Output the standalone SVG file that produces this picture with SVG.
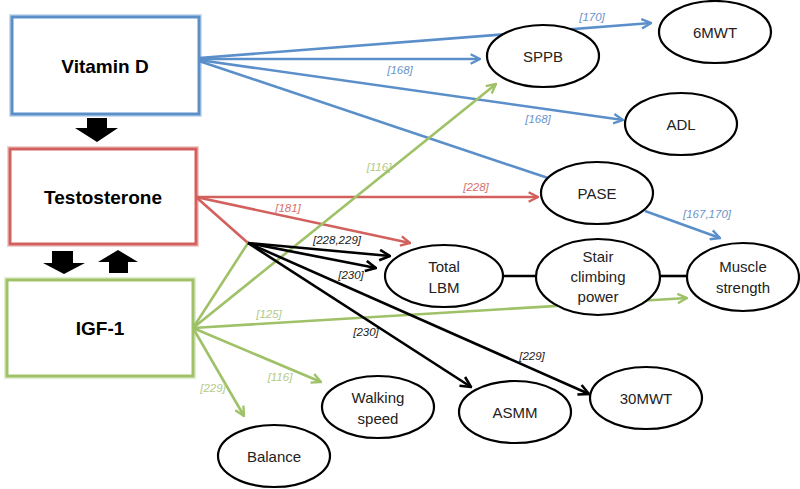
<svg xmlns="http://www.w3.org/2000/svg" width="800" height="489" viewBox="0 0 800 489">
<defs>
<marker id="mb" viewBox="0 0 10 10" refX="9" refY="5" markerWidth="4.5" markerHeight="4.5" markerUnits="strokeWidth" orient="auto"><path d="M1,1 L9,5 L1,9" fill="none" stroke="#5b8fca" stroke-width="2"/></marker>
<marker id="mr" viewBox="0 0 10 10" refX="9" refY="5" markerWidth="4.5" markerHeight="4.5" markerUnits="strokeWidth" orient="auto"><path d="M1,1 L9,5 L1,9" fill="none" stroke="#d2605c" stroke-width="2"/></marker>
<marker id="mg" viewBox="0 0 10 10" refX="9" refY="5" markerWidth="4.5" markerHeight="4.5" markerUnits="strokeWidth" orient="auto"><path d="M1,1 L9,5 L1,9" fill="none" stroke="#9fc167" stroke-width="2"/></marker>
<marker id="mk" viewBox="0 0 10 10" refX="9" refY="5" markerWidth="5" markerHeight="5" markerUnits="strokeWidth" orient="auto"><path d="M1,1 L9,5 L1,9" fill="none" stroke="#000" stroke-width="2"/></marker>
</defs>
<style>
.box{fill:#fff;stroke-width:3}
.glow{fill:none;stroke-width:6;stroke-opacity:0.3}
.bt{font-family:"Liberation Sans",Arial,sans-serif;font-weight:bold;font-size:19px;text-anchor:middle;fill:#000}
.el{fill:#fff;stroke:#000;stroke-width:2.2}
.nt{font-family:"Liberation Sans",Arial,sans-serif;font-size:15px;text-anchor:middle;fill:#222}
.lb{font-family:"Liberation Sans",Arial,sans-serif;font-style:italic;font-size:11.5px;text-anchor:middle}
.b{stroke:#5b8fca;stroke-width:2.6;fill:none}
.r{stroke:#d2605c;stroke-width:2.6;fill:none}
.g{stroke:#9fc167;stroke-width:2.6;fill:none}
.k{stroke:#000;stroke-width:2.6;fill:none}
</style>
<g id="connectors">
<line class="b" x1="199" y1="58" x2="651" y2="23" marker-end="url(#mb)"/>
<line class="b" x1="199" y1="59" x2="480" y2="59" marker-end="url(#mb)"/>
<line class="b" x1="199" y1="60" x2="623" y2="120" marker-end="url(#mb)"/>
<line class="b" x1="199" y1="61" x2="551" y2="179"/>
<line class="b" x1="645" y1="211" x2="720" y2="238" marker-end="url(#mb)"/>
<line class="r" x1="196" y1="197" x2="538" y2="197" marker-end="url(#mr)"/>
<line class="r" x1="196" y1="197" x2="410" y2="243" marker-end="url(#mr)"/>
<line class="r" x1="196" y1="197" x2="248" y2="243"/>
<line class="g" x1="193" y1="328" x2="496" y2="84" marker-end="url(#mg)"/>
<line class="g" x1="193" y1="328" x2="248" y2="243"/>
<line class="g" x1="193" y1="328" x2="687" y2="298" marker-end="url(#mg)"/>
<line class="g" x1="193" y1="328" x2="321" y2="382" marker-end="url(#mg)"/>
<line class="g" x1="193" y1="328" x2="244" y2="416" marker-end="url(#mg)"/>
<line class="k" x1="248" y1="243" x2="390" y2="256" marker-end="url(#mk)"/>
<line class="k" x1="248" y1="243" x2="376" y2="268" marker-end="url(#mk)"/>
<line class="k" x1="248" y1="243" x2="471" y2="387" marker-end="url(#mk)"/>
<line class="k" x1="248" y1="243" x2="589" y2="394" marker-end="url(#mk)"/>
<line class="k" x1="503" y1="276" x2="536" y2="276"/>
<line class="k" x1="660" y1="276" x2="687" y2="276"/>
<path d="M87,118 H107 V128 H118 L97,142 L75,128 H87 Z" fill="#000"/>
<path d="M52,251 H73 V263 H85 L64,274 L43,263 H52 Z" fill="#000"/>
<path d="M109,273 H128 V262 H138 L118,250 L98,262 H109 Z" fill="#000"/>
<g class="lb" fill="#6a93cc">
<text x="592" y="21">[170]</text>
<text x="400" y="74">[168]</text>
<text x="538" y="123">[168]</text>
<text x="707" y="218">[167,170]</text>
</g>
<g class="lb" fill="#d6716d">
<text x="476" y="191">[228]</text>
<text x="288" y="212">[181]</text>
</g>
<g class="lb" fill="#b3ca8a">
<text x="379" y="171">[116]</text>
<text x="269" y="318">[125]</text>
<text x="280" y="381">[116]</text>
<text x="213" y="392">[229]</text>
</g>
<g class="lb" fill="#222">
<text x="337" y="244">[228,229]</text>
<text x="351" y="279">[230]</text>
<text x="366" y="336">[230]</text>
<text x="532" y="360">[229]</text>
</g>
</g>
<g id="vitd">
<rect class="glow" x="12" y="17" width="187" height="97" stroke="#5b8fca"/>
<rect class="box" x="12" y="17" width="187" height="97" stroke="#5b8fca"/>
<text class="bt" x="105" y="73">Vitamin D</text>
</g>
<g id="testo">
<rect class="glow" x="10" y="149" width="186" height="95" stroke="#d2605c"/>
<rect class="box" x="10" y="149" width="186" height="95" stroke="#d2605c"/>
<text class="bt" x="103" y="204">Testosterone</text>
</g>
<g id="igf">
<rect class="glow" x="7" y="280" width="186" height="96" stroke="#9fc167"/>
<rect class="box" x="7" y="280" width="186" height="96" stroke="#9fc167"/>
<text class="bt" x="100" y="335">IGF-1</text>
</g>
<g id="n6mwt"><ellipse class="el" cx="715" cy="32" rx="56" ry="31"/><text class="nt" x="715" y="38">6MWT</text></g>
<g id="sppb"><ellipse class="el" cx="543" cy="56" rx="56" ry="31"/><text class="nt" x="543" y="62">SPPB</text></g>
<g id="adl"><ellipse class="el" cx="681" cy="124" rx="56" ry="31"/><text class="nt" x="681" y="130">ADL</text></g>
<g id="pase"><ellipse class="el" cx="597" cy="193" rx="56" ry="31"/><text class="nt" x="597" y="199">PASE</text></g>
<g id="lbm"><ellipse class="el" cx="444" cy="276" rx="59" ry="31"/><text class="nt" x="444" y="272">Total</text><text class="nt" x="444" y="293">LBM</text></g>
<g id="stair"><ellipse class="el" cx="598" cy="277" rx="62" ry="38"/><text class="nt" x="598" y="262">Stair</text><text class="nt" x="598" y="282">climbing</text><text class="nt" x="598" y="302">power</text></g>
<g id="muscle"><ellipse class="el" cx="743" cy="277" rx="56" ry="34"/><text class="nt" x="743" y="272">Muscle</text><text class="nt" x="743" y="293">strength</text></g>
<g id="asmm"><ellipse class="el" cx="515" cy="412" rx="56" ry="31"/><text class="nt" x="515" y="418">ASMM</text></g>
<g id="n30mwt"><ellipse class="el" cx="646" cy="398" rx="56" ry="31"/><text class="nt" x="646" y="404">30MWT</text></g>
<g id="walk"><ellipse class="el" cx="378" cy="407" rx="56" ry="31"/><text class="nt" x="378" y="403">Walking</text><text class="nt" x="378" y="424">speed</text></g>
<g id="balance"><ellipse class="el" cx="274" cy="456" rx="56" ry="31"/><text class="nt" x="274" y="462">Balance</text></g>
</svg>
